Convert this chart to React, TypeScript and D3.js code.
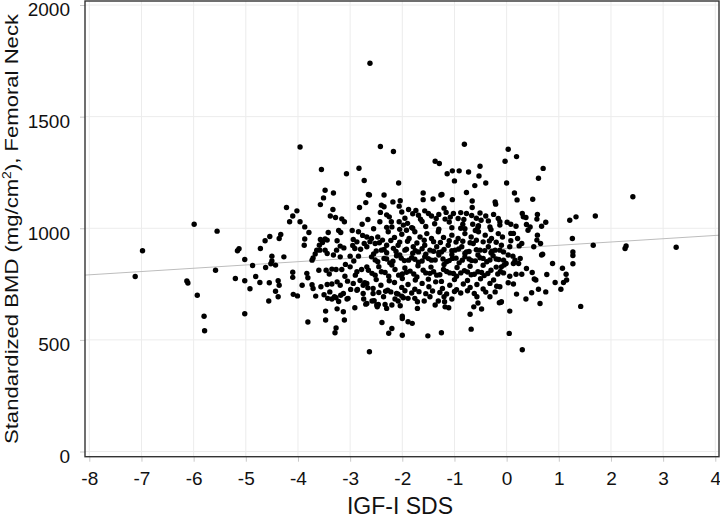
import React, { useEffect, useRef } from "react";
import * as d3 from "d3";

// axis ticks
const igfTicks = [-8, -7, -6, -5, -4, -3, -2, -1, 0, 1, 2, 3, 4];
const bmdTicks = [0, 500, 1000, 1500, 2000];

// linear fit drawn across the panel
const fitIntercept = 909;
const fitSlope = 14.7;

// [IGF-I SDS, standardized BMD]
const leftTail: [number, number][] = [
  [-7.12, 784], [-6.98, 899], [-6.13, 764], [-6.11, 755], [-5.99, 1018], [-5.93, 700],
  [-5.8, 606], [-5.79, 541], [-5.58, 812], [-5.55, 987], [-5.2, 775], [-5.16, 899],
  [-5.13, 908], [-5.02, 860], [-5.02, 765], [-5.02, 617],
];

const westBand: [number, number][] = [
  [-4.22, 1093], [-4.02, 1078], [-4.1, 1055], [-4.16, 1029], [-3.96, 1029], [-3.96, 1364],
  [-3.87, 1006], [-3.79, 981], [-4.33, 972], [-4.36, 954], [-4.54, 963], [-4.63, 944],
  [-3.87, 952], [-3.88, 924], [-4.72, 909], [-4.87, 833], [-4.5, 875], [-4.5, 853],
  [-4.43, 835], [-4.52, 841], [-4.62, 824], [-4.27, 872], [-3.71, 867], [-3.67, 885],
  [-3.73, 857], [-3.64, 902], [-3.58, 902], [-4.1, 803], [-4.1, 780], [-3.83, 798],
  [-3.81, 778], [-4.92, 729], [-4.81, 784], [-4.73, 757], [-4.55, 756], [-4.38, 765],
  [-4.36, 745], [-4.43, 718], [-3.92, 745], [-3.73, 747], [-3.56, 738], [-3.66, 696],
  [-4.09, 704], [-4.01, 697], [-4.38, 693], [-4.56, 674], [-3.81, 580], [-3.71, 730],
  [-3.55, 1263], [-3.48, 1170], [-3.51, 1136], [-3.57, 1106], [-3.57, 950], [-3.59, 924],
  [-3.53, 936], [-3.6, 812],
];

const midWest: [number, number][] = [
  [-3.07, 1244], [-2.83, 1269], [-2.73, 1214], [-3.32, 1158], [-2.65, 1151], [-2.7, 1115],
  [-2.82, 1093], [-3.38, 1055], [-3.28, 1048], [-3.33, 1084], [-3.16, 1042], [-3.11, 1029],
  [-2.66, 1039], [-2.77, 1018], [-3.42, 981], [-3.22, 990], [-3.18, 981], [-2.96, 990],
  [-2.84, 984], [-3.48, 952], [-3.44, 947], [-3.25, 944], [-3.19, 920], [-3.12, 912],
  [-2.94, 950], [-2.87, 939], [-2.95, 923], [-2.91, 909], [-2.76, 968], [-2.68, 961],
  [-2.73, 932], [-2.8, 906], [-3.48, 902], [-3.44, 887], [-3.32, 880], [-3.19, 872],
  [-3.26, 902], [-3.0, 875], [-2.93, 853], [-2.84, 875], [-3.46, 812], [-3.35, 817],
  [-3.27, 815], [-3.16, 815], [-3.09, 838], [-3.0, 827], [-2.78, 815], [-2.68, 827],
  [-2.87, 805], [-3.44, 748], [-3.35, 750], [-3.19, 745], [-3.05, 763], [-2.94, 753],
  [-2.81, 766], [-2.72, 756], [-2.99, 726], [-2.86, 726], [-2.75, 745], [-2.66, 733],
  [-3.5, 702], [-3.43, 686], [-3.3, 693], [-3.18, 700], [-3.04, 686], [-2.75, 708],
  [-3.39, 715], [-3.13, 708], [-2.87, 722], [-3.47, 629], [-3.47, 589], [-3.35, 683],
  [-3.27, 689], [-3.22, 672], [-3.25, 639], [-3.13, 626], [-3.11, 589], [-3.06, 683],
  [-3.27, 553], [-3.29, 532], [-2.91, 644], [-2.74, 683], [-2.7, 660], [-2.63, 447],
  [-2.62, 1739], [-3.4, 795], [-3.1, 785], [-2.9, 790], [-3.25, 760],
];

const upperCore: [number, number][] = [
  [-2.42, 1366], [-2.17, 1344], [-0.81, 1376], [-1.37, 1300], [-1.29, 1290], [-2.07, 1203],
  [-1.14, 1244], [-1.04, 1257], [-0.91, 1257], [-0.73, 1252], [-0.51, 1278], [-0.53, 1234],
  [-1.0, 1212], [-0.61, 1191], [-0.4, 1203], [-1.6, 1158], [-1.6, 1128], [-1.26, 1149],
  [-1.04, 1128], [-0.77, 1160], [-0.66, 1122], [-0.66, 1093], [-0.22, 1118], [-0.21, 1108],
  [-2.35, 1149], [-2.63, 1149], [-1.41, 1131], [-1.24, 1151], [-2.4, 1103], [-2.35, 1096],
  [-2.42, 1071], [-2.18, 1118], [-2.06, 1099], [-2.04, 1123], [-2.01, 1073], [-1.88, 1084],
  [-1.74, 1080], [-1.69, 1058], [-1.57, 1078], [-1.5, 1066], [-1.44, 1055], [-1.35, 1044],
  [-1.2, 1090], [-1.16, 1071], [-1.18, 1041], [-1.02, 1066], [-0.93, 1044], [-0.82, 1039],
  [-0.84, 1018], [-0.77, 1066], [-0.67, 1057], [-0.51, 1068], [-0.49, 1036], [-0.65, 1018],
  [-0.54, 1011], [-0.35, 1033], [-0.32, 1006], [-0.16, 1044], [-0.13, 1014], [-2.43, 1029],
  [-2.25, 1051], [-2.21, 1029], [-2.2, 1006], [-2.06, 1029], [-1.98, 1014], [-1.92, 991],
  [-1.82, 1003], [-1.9, 1022], [-1.62, 1030], [-1.38, 1020], [-1.1, 1028], [-0.88, 1000],
  [-0.6, 990], [-2.3, 1060], [-1.95, 1045], [-1.8, 1065], [-1.65, 1040], [-1.3, 1062],
  [-1.08, 1050], [-0.88, 1070], [-0.58, 1045], [-0.4, 1055], [-0.25, 1062],
];

const coreRows: [number, number][] = [
  [-2.59, 954], [-2.47, 961], [-2.38, 947], [-2.27, 984], [-2.15, 959], [-2.01, 973],
  [-1.87, 954], [-1.76, 984], [-1.66, 961], [-1.53, 976], [-1.44, 954], [-1.31, 984],
  [-1.21, 959], [-1.05, 969], [-0.93, 954], [-0.8, 976], [-0.68, 961], [-0.54, 984],
  [-0.41, 969], [-0.29, 954], [-0.16, 976], [-0.08, 961],
  [-2.62, 940], [-2.44, 935], [-2.22, 945], [-2.05, 938], [-1.9, 942], [-1.72, 934],
  [-1.58, 946], [-1.4, 940], [-1.27, 936], [-1.1, 944], [-0.97, 938], [-0.84, 942],
  [-0.7, 935], [-0.58, 946], [-0.45, 939], [-0.33, 943], [-0.2, 937],
  [-2.68, 917], [-2.52, 932], [-2.4, 902], [-2.3, 924], [-2.17, 910], [-2.08, 924],
  [-1.95, 902], [-1.79, 917], [-1.69, 894], [-1.57, 924], [-1.47, 902], [-1.34, 917],
  [-1.25, 894], [-1.12, 924], [-0.99, 902], [-0.86, 917], [-0.77, 894], [-0.64, 932],
  [-0.51, 902], [-0.35, 917], [-0.22, 902], [-0.1, 924],
  [-2.5, 898], [-2.35, 905], [-2.12, 896], [-1.92, 906], [-1.75, 900], [-1.62, 908],
  [-1.4, 897], [-1.2, 905], [-1.05, 899], [-0.92, 907], [-0.72, 896], [-0.58, 904],
  [-0.42, 900], [-0.28, 897],
  [-2.55, 885], [-2.3, 890], [-2.05, 880], [-1.8, 888], [-1.55, 884], [-1.3, 892],
  [-1.05, 882], [-0.8, 887], [-0.55, 880], [-0.3, 890],
  [-2.59, 872], [-2.47, 850], [-2.35, 865], [-2.24, 845], [-2.11, 877], [-1.96, 855],
  [-1.82, 868], [-1.69, 848], [-1.57, 872], [-1.44, 857], [-1.3, 880], [-1.15, 850],
  [-1.04, 865], [-0.91, 845], [-0.8, 872], [-0.67, 855], [-0.51, 868], [-0.38, 850],
  [-0.26, 877], [-0.15, 860],
  [-2.52, 858], [-2.3, 862], [-2.18, 852], [-2.02, 866], [-1.88, 857], [-1.76, 861],
  [-1.62, 853], [-1.5, 864], [-1.37, 858], [-1.22, 862], [-1.1, 855], [-0.97, 866],
  [-0.85, 857], [-0.72, 862], [-0.6, 854], [-0.45, 865], [-0.32, 858], [-0.2, 862],
  [-2.45, 828], [-2.2, 835], [-1.95, 822], [-1.7, 832], [-1.45, 826], [-1.2, 838],
  [-0.95, 824], [-0.7, 830], [-0.45, 834], [-0.2, 826],
  [-2.65, 812], [-2.52, 790], [-2.4, 805], [-2.26, 785], [-2.14, 815], [-2.0, 795],
  [-1.85, 808], [-1.72, 782], [-1.6, 812], [-1.47, 798], [-1.34, 790], [-1.21, 815],
  [-1.09, 800], [-0.96, 785], [-0.81, 810], [-0.68, 792], [-0.55, 805], [-0.43, 788],
  [-0.3, 812], [-0.17, 795], [-0.06, 800],
  [-2.58, 798], [-2.33, 802], [-2.07, 790], [-1.92, 803], [-1.78, 795], [-1.55, 800],
  [-1.4, 805], [-1.28, 792], [-1.15, 806], [-1.02, 797], [-0.88, 800], [-0.75, 804],
  [-0.62, 794], [-0.48, 802], [-0.36, 797], [-0.12, 806],
  [-2.5, 770], [-2.25, 765], [-2.0, 775], [-1.75, 768], [-1.5, 772], [-1.25, 762],
  [-1.0, 770], [-0.75, 766], [-0.5, 774], [-0.25, 768],
  [-2.68, 753], [-2.56, 730], [-2.41, 745], [-2.28, 722], [-2.15, 757], [-2.01, 735],
  [-1.89, 748], [-1.76, 727], [-1.62, 753], [-1.49, 738], [-1.36, 760], [-1.23, 730],
  [-1.09, 745], [-0.96, 725], [-0.83, 750], [-0.7, 735], [-0.57, 748], [-0.45, 728],
  [-0.32, 753], [-0.19, 740],
  [-2.45, 712], [-2.32, 718], [-2.08, 705], [-1.95, 720], [-1.82, 710], [-1.68, 716],
  [-1.55, 707], [-1.42, 719], [-1.28, 712], [-1.15, 706], [-1.0, 717], [-0.88, 710],
  [-0.75, 720], [-0.62, 708], [-0.4, 714],
  [-2.55, 998], [-2.3, 1004], [-2.05, 995], [-1.8, 1000], [-1.55, 1008], [-1.3, 996],
  [-1.05, 1002], [-0.8, 998], [-0.55, 1005], [-0.3, 994],
];

const lowerCore: [number, number][] = [
  [-2.68, 663], [-2.58, 674], [-2.46, 659], [-2.48, 648], [-2.36, 693], [-2.3, 641],
  [-2.2, 656], [-2.14, 683], [-2.08, 674], [-2.04, 653], [-1.98, 689], [-1.89, 686],
  [-1.76, 686], [-1.71, 671], [-1.71, 641], [-1.58, 674], [-1.47, 693], [-1.37, 656],
  [-1.31, 674], [-1.19, 671], [-1.18, 648], [-1.11, 644], [-1.05, 683], [-1.2, 693],
  [-2.39, 578], [-2.2, 551], [-2.26, 530], [-2.0, 606], [-2.0, 596], [-1.89, 581],
  [-1.81, 574], [-2.0, 521], [-1.51, 518], [-1.25, 532], [-0.7, 615], [-0.68, 548],
  [-0.63, 648], [-0.55, 665], [-0.48, 638], [-0.57, 693], [-0.32, 693], [-0.11, 668],
  [-0.22, 715], [-0.14, 666], [-2.56, 708], [-2.54, 675], [-2.49, 656], [-2.33, 659],
  [-2.22, 715], [-2.11, 708], [-2.01, 696],
];

const rightSide: [number, number][] = [
  [0.03, 1354], [-0.03, 1300], [0.19, 1321], [0.7, 1268], [0.61, 1224], [2.42, 1141],
  [0.0, 1203], [0.15, 1158], [0.2, 1127], [0.5, 1130], [0.3, 1066], [0.32, 1051],
  [0.37, 1048], [0.59, 1062], [0.58, 1041], [0.75, 1027], [0.67, 1009], [0.38, 1017],
  [0.45, 1006], [0.41, 991], [1.21, 1036], [1.33, 1051], [1.7, 1055], [1.26, 954],
  [1.27, 894], [1.27, 878], [1.27, 841], [1.66, 924], [2.27, 909], [2.29, 921],
  [3.25, 915], [-0.13, 1029], [0.01, 1027], [0.08, 1018], [0.18, 1009], [0.08, 977],
  [0.13, 977], [0.21, 954], [0.08, 944], [0.29, 932], [0.24, 921], [0.06, 917],
  [0.52, 917], [0.58, 947], [0.65, 932], [0.59, 969], [0.69, 884], [0.67, 880],
  [-0.13, 902], [-0.06, 894], [0.03, 880], [0.12, 875], [0.16, 857], [0.26, 865],
  [0.23, 842], [0.13, 842], [-0.06, 857], [-0.01, 842], [-0.1, 827], [-0.05, 835],
  [0.38, 820], [0.49, 802], [0.88, 842], [1.07, 821], [1.14, 794], [0.77, 793],
  [0.29, 794], [0.18, 794], [0.06, 785], [0.53, 773], [0.56, 768], [1.15, 768],
  [1.09, 757], [1.04, 727], [0.75, 715], [0.61, 727], [0.48, 711], [0.37, 683],
  [0.19, 705], [0.13, 750], [0.03, 756], [-0.13, 738], [0.64, 663], [0.06, 629],
  [0.05, 529], [0.3, 456], [1.42, 650], [0.93, 757], [-0.1, 671],
];

const allPoints = [...leftTail, ...westBand, ...midWest, ...upperCore, ...coreRows, ...lowerCore, ...rightSide];

const font = "'Liberation Sans', Arial, Helvetica, sans-serif";

const App = () => {
  const svgRef = useRef<SVGSVGElement>(null);

  useEffect(() => {
    const width = 720;
    const height = 518;
    const frame = { left: 85, right: 719, top: 1, bottom: 456.7 };

    const svg = d3.select(svgRef.current).attr("width", width).attr("height", height);
    svg.selectAll("*").remove();

    const x = d3.scaleLinear().domain([-8, 4]).range([89.3, 715.3]);
    const y = d3.scaleLinear().domain([0, 2000]).range([451.5, 5]);

    // grid
    const grid = svg.append("g").attr("stroke", "#ececec").attr("stroke-width", 1);
    grid.selectAll("line.gx").data(igfTicks).join("line")
      .attr("class", "gx")
      .attr("x1", d => x(d)).attr("x2", d => x(d))
      .attr("y1", frame.top).attr("y2", frame.bottom);
    grid.selectAll("line.gy").data(bmdTicks).join("line")
      .attr("class", "gy")
      .attr("x1", frame.left).attr("x2", frame.right)
      .attr("y1", d => y(d)).attr("y2", d => y(d));

    // axes
    const xAxis = svg.append("g")
      .attr("transform", `translate(0,${frame.bottom})`)
      .call(d3.axisBottom(x).tickValues(igfTicks).tickSize(5).tickPadding(10).tickFormat(d3.format("d")));
    const yAxis = svg.append("g")
      .attr("transform", `translate(${frame.left},0)`)
      .call(d3.axisLeft(y).tickValues(bmdTicks).tickSize(5).tickPadding(10).tickFormat(d3.format("d")));
    [xAxis, yAxis].forEach(g => {
      g.select(".domain").remove();
      g.selectAll(".tick line").attr("stroke", "#c8c8c8");
      g.selectAll(".tick text").attr("fill", "#111").style("font-family", font).style("font-size", "19px");
      g.attr("font-family", null).attr("font-size", null);
    });
    xAxis.selectAll(".tick text").text(d => String(d));
    yAxis.selectAll(".tick text").attr("dy", "0.57em");

    // regression line
    const x0 = x.invert(frame.left);
    const x1 = x.invert(frame.right);
    svg.append("line")
      .attr("x1", x(x0)).attr("y1", y(fitIntercept + fitSlope * x0))
      .attr("x2", x(x1)).attr("y2", y(fitIntercept + fitSlope * x1))
      .attr("stroke", "#bdbdbd").attr("stroke-width", 1);

    // points
    svg.append("g").selectAll("circle").data(allPoints).join("circle")
      .attr("cx", d => x(d[0]))
      .attr("cy", d => y(d[1]))
      .attr("r", 2.7)
      .attr("fill", "#000");

    // frame
    svg.append("rect")
      .attr("x", frame.left).attr("y", frame.top)
      .attr("width", frame.right - frame.left).attr("height", frame.bottom - frame.top)
      .attr("fill", "none").attr("stroke", "#333").attr("stroke-width", 1.4);

    // axis titles
    svg.append("text")
      .attr("x", 400).attr("y", 514)
      .attr("text-anchor", "middle")
      .style("font-family", font).style("font-size", "23px").attr("fill", "#111")
      .text("IGF-I SDS");

    const yt = svg.append("text")
      .attr("transform", `translate(18,229) rotate(-90)`)
      .attr("text-anchor", "middle")
      .attr("textLength", 430)
      .attr("lengthAdjust", "spacingAndGlyphs")
      .style("font-family", font).style("font-size", "19px").attr("fill", "#111");
    yt.append("tspan").text("Standardized BMD (mg/cm");
    yt.append("tspan").attr("baseline-shift", "super").style("font-size", "12px").text("2");
    yt.append("tspan").text("), Femoral Neck");
  }, []);

  return (
    <div style={{ position: "absolute", left: 0, top: 0, background: "#fff" }}>
      <svg ref={svgRef} style={{ display: "block" }}></svg>
    </div>
  );
};

export default App;
